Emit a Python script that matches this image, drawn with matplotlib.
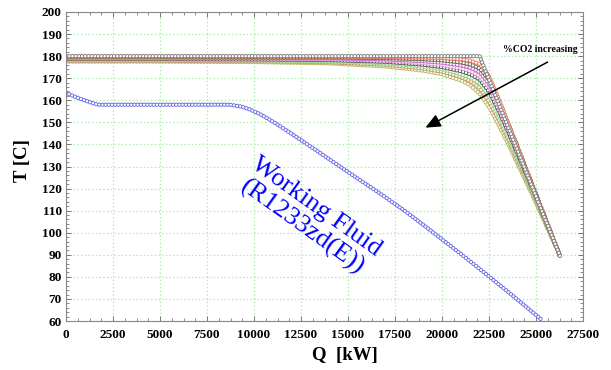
"""
T-Q diagram: hot source curves (varying %CO2) vs working fluid R1233zd(E)
"""

import matplotlib
matplotlib.use('Agg')
import matplotlib.pyplot as plt
from matplotlib.ticker import MultipleLocator

plt.rcParams['font.family'] = ['Liberation Serif', 'DejaVu Serif']
plt.rcParams['lines.scale_dashes'] = False

# Working fluid curve (R1233zd(E))
wf_q = [0, 600, 1200, 1700, 5000, 8700, 9300, 9800, 10400, 11200, 12500, 15000,
        16700, 18000, 19000, 20000, 21000, 22500, 24000, 25000, 25350]
wf_t = [163.3, 161.2, 159.3, 158, 158, 158, 157.2, 155.8, 153.4, 149.3, 142, 127.5,
        117.8, 110, 103.6, 97, 90.4, 80.2, 69.8, 62.7, 60.2]

# Hot source curves; the first one (grey) has a sharp corner
grey_q = [0, 22000, 26300]
grey_t = [180.0, 180.0, 89]

hot_q = [0, 5000, 10000, 14000, 17000, 19000, 20000, 21000, 21500,
         22000, 22500, 23000, 23500, 24000, 24500, 25000, 25500, 26300]
hot_1 = [179.8, 179.8, 179.8, 179.7, 179.6, 179.4, 179.2, 178.6, 178.0,
         176.5, 171.0, 161.0, 150.0, 139.0, 128.0, 117.0, 106.0, 89]
hot_2 = [179.6, 179.6, 179.5, 179.4, 179.1, 178.6, 178.1, 177.2, 176.3,
         174.5, 169.5, 160.5, 150.0, 139.5, 128.5, 117.5, 106.5, 89]
hot_3 = [179.3, 179.3, 179.2, 179.0, 178.5, 177.7, 177.0, 175.8, 174.8,
         172.8, 167.5, 159.0, 149.0, 138.5, 128.0, 117.5, 106.5, 89]
hot_4 = [179.0, 179.0, 178.9, 178.6, 178.0, 176.9, 176.0, 174.5, 173.3,
         171.0, 166.0, 157.5, 147.5, 137.5, 127.0, 116.5, 106.0, 89]
hot_5 = [178.7, 178.7, 178.5, 178.2, 177.4, 176.1, 175.0, 173.2, 171.8,
         169.5, 164.0, 155.5, 146.0, 136.0, 126.0, 116.0, 105.5, 89]
hot_6 = [178.3, 178.3, 178.1, 177.7, 176.8, 175.3, 174.1, 172.0, 170.4,
         167.8, 162.0, 153.5, 144.0, 134.5, 125.0, 115.0, 105.0, 89]
hot_7 = [177.9, 177.9, 177.7, 177.2, 176.1, 174.4, 173.0, 170.6, 168.8,
         165.5, 159.5, 151.5, 142.5, 133.0, 124.0, 114.5, 104.5, 89]
hot_8 = [177.5, 177.5, 177.3, 176.7, 175.3, 173.4, 171.8, 169.0, 166.8,
         163.0, 157.0, 149.0, 140.5, 131.5, 122.5, 113.5, 104.0, 89]

hot_curves = [hot_8, hot_7, hot_6, hot_5, hot_4, hot_3, hot_2, hot_1]
hot_colors = ['#b8b860', '#c89868', '#8ee08e', '#555555', '#e8a0d8',
              '#b868c8', '#6a6a3a', '#e87868']

x_ticks = list(range(0, 27501, 2500))
y_ticks = list(range(60, 201, 10))


def ring_line(ax, x, y, color):
    # chain of small open circles drawn as round dots with a white centre
    dash = (0, (0.01, 2.3))
    ax.plot(x, y, color=color, lw=3.1, linestyle=dash, dash_capstyle='round')
    ax.plot(x, y, color='white', lw=1.8, linestyle=dash, dash_capstyle='round')


fig = plt.figure(figsize=(6.11, 3.70), dpi=100)
ax = fig.add_axes([66 / 611, 49 / 370, 517 / 611, 309 / 370])

ring_line(ax, wf_q, wf_t, '#6a6ae8')
for vals, col in zip(hot_curves, hot_colors):
    ring_line(ax, hot_q, vals, col)
ring_line(ax, grey_q, grey_t, '#808080')

ax.set_xlim(0, 27500)
ax.set_ylim(60, 200)
ax.set_xticks(x_ticks)
ax.set_yticks(y_ticks)
ax.xaxis.set_minor_locator(MultipleLocator(625))
ax.yaxis.set_minor_locator(MultipleLocator(2))
ax.tick_params(which='both', direction='in', top=True, right=True, color='#777777')
ax.tick_params(which='major', length=3.5, width=0.7, labelsize=9.5)
ax.tick_params(axis='x', which='major', pad=6)
ax.tick_params(axis='y', which='major', pad=3)
ax.tick_params(which='minor', length=2, width=0.6)
for lab in ax.get_xticklabels() + ax.get_yticklabels():
    lab.set_fontweight('bold')
for sp in ax.spines.values():
    sp.set_color('#888888')
    sp.set_linewidth(0.8)

ax.grid(True, which='major', color='#a8eea8', linestyle=':', linewidth=0.9)
ax.set_axisbelow(True)

ax.set_xlabel('Q  [kW]', fontsize=13.5, fontweight='bold')
ax.xaxis.set_label_coords(0.54, -0.085)
ax.set_ylabel('T [C]', fontsize=13.5, fontweight='bold')
ax.yaxis.set_label_coords(-0.068, 0.52)

ax.text(12925, 107, 'Working Fluid\n(R1233zd(E))', color='#0000ff', fontsize=19,
        rotation=-35.5, ha='center', va='center', multialignment='center',
        linespacing=1.1, rotation_mode='anchor')

ax.text(25213, 182.8, '%CO2 increasing', fontsize=7, fontweight='bold',
        ha='center', va='center')
ax.annotate('', xy=(18990, 147), xytext=(25745, 177.9),
            arrowprops=dict(arrowstyle='-|>,head_length=0.9,head_width=0.4',
                            color='black', lw=1.1))

plt.savefig('out.png', dpi=100)
